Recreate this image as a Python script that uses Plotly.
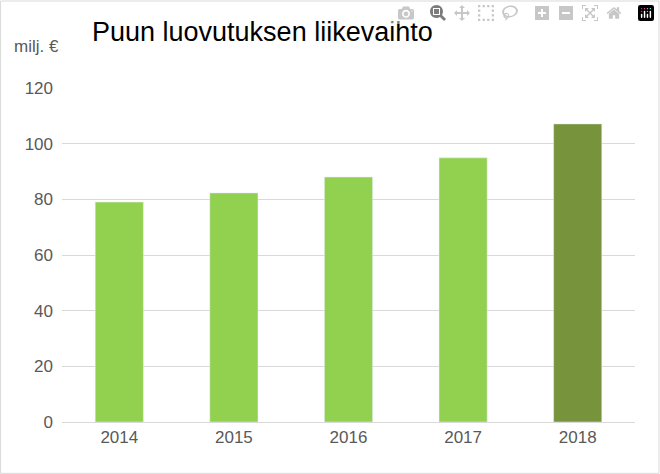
import plotly.graph_objects as go

years = ["2014", "2015", "2016", "2017", "2018"]
values = [79.0, 82.3, 88.0, 94.9, 107.1]
colors = ["#92D050", "#92D050", "#92D050", "#92D050", "#77933C"]

fig = go.Figure(go.Bar(x=years, y=values, marker_color=colors, width=0.42))
fig.update_layout(
    width=660, height=474,
    margin=dict(l=62, r=25, t=88, b=52),
    plot_bgcolor="white", paper_bgcolor="white",
    showlegend=False,
    font=dict(family="Liberation Sans, Arial", color="#595959", size=17),
    xaxis=dict(showline=True, linecolor="#D9D9D9", ticks="", tickfont=dict(size=17)),
    yaxis=dict(range=[0, 120], dtick=20, gridcolor="#D9D9D9", zeroline=False,
               showline=False, tickfont=dict(size=17), ticklabelstandoff=8),
    annotations=[
        dict(text="Puun luovutuksen liikevaihto", x=90, y=474-32, xref="paper", yref="paper",
             showarrow=False, xanchor="left", yanchor="middle",
             font=dict(size=27, color="black")),
        dict(text="milj. €", x=12, y=474-47, xref="paper", yref="paper",
             showarrow=False, xanchor="left", yanchor="middle",
             font=dict(size=17, color="#595959")),
    ],
    shapes=[dict(type="rect", xref="paper", yref="paper", x0=0, y0=0, x1=1, y1=1,
                 line=dict(color="#D9D9D9", width=1))],
)
pw, ph = 660 - 62 - 25, 474 - 88 - 52
for a in fig.layout.annotations:
    a.x = (a.x - 62) / pw
    a.y = (a.y - 52) / ph
fig.layout.shapes[0].update(x0=-62/pw + 0.001, x1=(660-62-1)/pw, y0=-52/ph+0.002, y1=(474-52-1)/ph)
fig.write_html("out.html", post_script="document.body.style.margin='0';document.body.style.overflow='hidden';")
